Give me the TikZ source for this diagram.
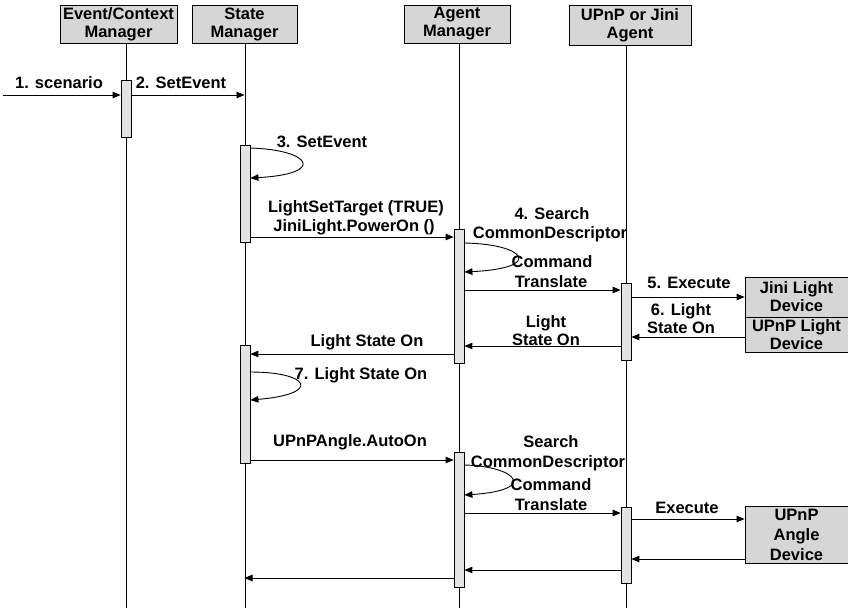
\documentclass[tikz,border=0pt]{standalone}
\usepackage{fontspec}
\setmainfont{Liberation Sans}
\usetikzlibrary{arrows.meta}
\begin{document}
\begin{tikzpicture}[x=1pt,y=-1pt,
  every node/.style={font=\fontsize{16.5}{18}\selectfont\bfseries},
  lbl/.style={inner sep=0pt, align=center},
  hdr/.style={draw, line width=0.9pt, fill=gray!32, inner sep=0pt, align=center},
  actbar/.style={draw, line width=0.8pt, fill=gray!22, inner sep=0pt, minimum width=10pt},
  life/.style={line width=0.8pt},
  msg/.style={line width=0.9pt, -{Triangle[length=8pt,width=6.5pt]}},
]
\path[use as bounding box] (0,0) rectangle (848,608);

% headers
\node[hdr, minimum width=117pt, minimum height=38pt] (ec) at (118.5,24) {Event/Context\\Manager};
\node[hdr, minimum width=105pt, minimum height=38pt] (sm) at (244.5,24) {State\\Manager};
\node[hdr, minimum width=106pt, minimum height=38pt] (am) at (457,24) {Agent\\Manager};
\node[hdr, minimum width=122pt, minimum height=40pt] (ua) at (630,25) {UPnP or Jini\\Agent};

% lifeline ends
\coordinate (ecb) at (126,608);
\coordinate (smb) at (245,608);
\coordinate (amb) at (459,608);
\coordinate (uab) at (626,608);
\draw[life] (ec.south -| ecb) -- (ecb);
\draw[life] (sm.south -| smb) -- (smb);
\draw[life] (am.south -| amb) -- (amb);
\draw[life] (ua.south -| uab) -- (uab);

% activation bars
\node[actbar, minimum height=57pt] (bEC) at (126,108.5) {};
\node[actbar, minimum height=97pt] (bS1) at (245,193.5) {};
\node[actbar, minimum height=118pt] (bS2) at (245,404) {};
\node[actbar, minimum height=134pt] (bA1) at (459,296) {};
\node[actbar, minimum height=135pt] (bA2) at (459,519.5) {};
\node[actbar, minimum height=77pt] (bU1) at (626,321.5) {};
\node[actbar, minimum height=76pt] (bU2) at (626,545) {};

% devices
\node[hdr, minimum width=103pt, minimum height=40pt] (jini) at (796.5,297) {Jini Light\\Device};
\node[hdr, minimum width=103pt, minimum height=35pt] (upl) at (796.5,334.5) {UPnP Light\\Device};
\node[hdr, minimum width=103pt, minimum height=57pt] (ang) at (796.5,534.5) {UPnP\\[2pt]Angle\\[2pt]Device};

% messages
\coordinate (sc) at (3,95);
\draw[msg] (sc) -- (bEC.west |- sc);
\node[lbl] (l1) at (59,83) {1. scenario};
\draw[msg] (bEC.east |- 0,95) -- (sm.south |- 0,95);
\node[lbl] (l2) at (181,83) {2. SetEvent};

\draw[msg] (bS1.east |- 0,148) .. controls (312,150) and (326,174) .. (bS1.east |- 0,178);
\node[lbl] (l3) at (322,142) {3. SetEvent};

\draw[msg] (bS1.east |- 0,237) -- (bA1.west |- 0,237);
\node[lbl] (l4a) at (356,208) {LightSetTarget (TRUE)};
\node[lbl] (l4b) at (354,227) {JiniLight.PowerOn ()};

\draw[msg] (bA1.east |- 0,243) .. controls (525,244) and (545,268) .. (bA1.east |- 0,272);
\node[lbl] (l5a) at (552,214) {4. Search};
\node[lbl] (l5b) at (550,234) {CommonDescriptor};
\node[lbl] (l5c) at (552,262) {Command};
\node[lbl] (l5d) at (551,282) {Translate};

\draw[msg] (bA1.east |- 0,290) -- (bU1.west |- 0,290);
\draw[msg] (bU1.east |- 0,297) -- (jini.west |- 0,297);
\node[lbl] (l6) at (689,283) {5. Execute};

\draw[msg] (upl.west |- 0,337) -- (bU1.east |- 0,337);
\node[lbl] (l7) at (681,319) {6. Light\\State On};

\draw[msg] (bU1.west |- 0,346) -- (bA1.east |- 0,346);
\node[lbl] (l8) at (546,331) {Light\\State On};

\draw[msg] (bA1.west |- 0,354) -- (bS2.east |- 0,354);
\node[lbl] (l9) at (367,342) {Light State On};

\draw[msg] (bS2.east |- 0,372) .. controls (310,372) and (322,394) .. (bS2.east |- 0,400);
\node[lbl] (l10) at (361,375) {7. Light State On};

\draw[msg] (bS2.east |- 0,460) -- (bA2.west |- 0,460);
\node[lbl] (l11) at (350,442) {UPnPAngle.AutoOn};

\draw[msg] (bA2.east |- 0,465) .. controls (515,466) and (540,490) .. (bA2.east |- 0,495);
\node[lbl] (l12a) at (551,442) {Search};
\node[lbl] (l12b) at (548,463) {CommonDescriptor};
\node[lbl] (l12c) at (551,485) {Command};
\node[lbl] (l12d) at (551,505) {Translate};

\draw[msg] (bA2.east |- 0,513) -- (bU2.west |- 0,513);
\draw[msg] (bU2.east |- 0,519) -- (ang.west |- 0,519);
\node[lbl] (l13) at (687,508) {Execute};

\draw[msg] (ang.west |- 0,559) -- (bU2.east |- 0,559);
\draw[msg] (bU2.west |- 0,570) -- (bA2.east |- 0,570);
\draw[msg] (bA2.west |- 0,578) -- (sm.south |- 0,578);
\end{tikzpicture}
\end{document}
